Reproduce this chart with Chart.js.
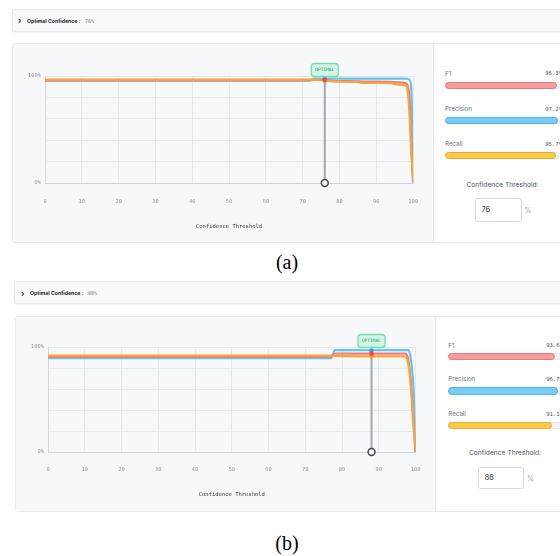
<!DOCTYPE html>
<html>
<head>
<meta charset="utf-8">
<script src="https://cdn.jsdelivr.net/npm/chart.js@4.4.1/dist/chart.umd.min.js"></script>
<style>
  html, body { margin: 0; padding: 0; background: #fff; }
  body { width: 560px; height: 556px; overflow: hidden; position: relative; font-family: Inter, "Noto Sans", sans-serif; }
  .abs { position: absolute; white-space: nowrap; }
  .hdr { position: absolute; width: 620px; height: 23px; box-sizing: border-box; background: #f8f9fb; border: 1px solid #e5e7eb; border-radius: 3px; box-shadow: 0 1px 1px rgba(0,0,0,0.03); }
  .chev { font-size: 8px; font-weight: 700; color: #222; transform: translateY(-50%); }
  .hdr-label { font-size: 5.2px; font-weight: 700; color: #1f2937; transform: translateY(-50%); }
  .hdr-val { font-family: "DejaVu Sans Mono", monospace; font-size: 5px; color: #6b7280; transform: translateY(-50%); }
  .card { position: absolute; width: 620px; box-sizing: border-box; border: 1px solid #e6e8ec; border-radius: 3px; background: #fff; overflow: hidden; }
  canvas { position: absolute; background: #f7f8fa; }
  .side-line { position: absolute; width: 1px; background: #e6e8ec; }
  .mlabel { font-size: 6.2px; color: #6b7280; transform: translateY(-50%); }
  .mval { font-family: "DejaVu Sans Mono", monospace; font-size: 5.6px; color: #4b5563; transform: translate(-100%, -50%); }
  .track { position: absolute; box-sizing: border-box; border: 1px solid #e3e5e9; background: #f3f4f6; border-radius: 4px; }
  .fill { position: absolute; box-sizing: border-box; border-radius: 4px; border: 1px solid; }
  .ct { font-size: 6.7px; color: #4b5563; transform: translate(-50%, -50%); }
  .inp { position: absolute; box-sizing: border-box; border: 1px solid #d6d9de; border-radius: 3px; background: #fff; font-size: 7.4px; color: #1f2937; padding-left: 6px; display: flex; align-items: center; }
  .pct { font-size: 7px; color: #9ca3af; transform: translateY(-50%); }
  .cap { font-family: "Liberation Serif", "Times New Roman", serif; font-size: 20px; color: #000; transform: translate(-50%, -50%); }
</style>
</head>
<body>

<div class="hdr" style="left:12px; top:9px;"></div>
<span class="abs chev" style="left:18px; top:20px;">›</span>
<span class="abs hdr-label" style="left:27px; top:20.5px;">Optimal Confidence :</span>
<span class="abs hdr-val" id="hdrValA" style="left:85px; top:20.5px;"></span>
<div class="card" style="left:12px; top:43px; height:200px;"></div>
<canvas id="chartA" width="420" height="198" style="left:13px; top:44px;"></canvas>
<div class="side-line" style="left:433px; top:44px; height:198px;"></div>
<div id="sideA"></div>
<span class="abs cap" style="left:287px; top:262px;">(a)</span>

<div class="hdr" style="left:14px; top:281px;"></div>
<span class="abs chev" style="left:21px; top:292.5px;">›</span>
<span class="abs hdr-label" style="left:30px; top:293px;">Optimal Confidence :</span>
<span class="abs hdr-val" id="hdrValB" style="left:88px; top:293px;"></span>
<div class="card" style="left:15px; top:316px; height:196px;"></div>
<canvas id="chartB" width="419" height="194" style="left:16px; top:317px;"></canvas>
<div class="side-line" style="left:435px; top:317px; height:194px;"></div>
<div id="sideB"></div>
<span class="abs cap" style="left:287px; top:543px;">(b)</span>

<script>
// ---- data ----
const metricNames = ['F1', 'Precision', 'Recall'];

// panel (a)
const optimalA = 76;
const metricsA = [96.3, 97.2, 95.7];          // F1, Precision, Recall at the optimal threshold
const thresholdsA = [0, 72, 73, 76, 78, 80, 85, 86, 94, 95, 97, 98, 98.5, 99, 99.5, 100];
const f1A =        [96.0, 96.0, 96.5, 96.3, 95.6, 95.3, 95.0, 94.8, 94.5, 94.2, 93.8, 93.2, 91.0, 80.0, 40.0, 0];
const precisionA = [95.6, 95.6, 97.6, 97.4, 97.6, 97.6, 97.6, 97.6, 97.6, 97.6, 97.6, 97.6, 97.4, 96.5, 88.0, 0];
const recallA =    [96.6, 96.6, 96.6, 95.7, 95.0, 94.7, 94.3, 93.6, 93.3, 92.4, 91.6, 91.2, 86.0, 65.0, 28.0, 0];

// panel (b)
const optimalB = 88;
const metricsB = [93.6, 96.7, 91.1];
const thresholdsB = [0, 77, 78, 88, 97, 97.5, 98, 98.5, 99, 99.5, 100];
const f1B =        [90.6, 90.6, 93.8, 93.6, 93.6, 93.0, 88.0, 75.0, 52.0, 25.0, 0];
const precisionB = [89.5, 89.5, 97.0, 96.9, 97.0, 97.0, 96.9, 93.0, 80.0, 55.0, 0];
const recallB =    [91.7, 91.7, 91.5, 91.1, 91.1, 90.0, 84.0, 70.0, 46.0, 20.0, 0];

const yTicks = { 0: '0%', 100: '100%' };

// ---- styles ----
const RED = '#f07c7c', BLUE = '#63c3ee', ORANGE = '#f5a53c';
const barStyles = [
  { fill: '#f59d9d', border: '#e57b7b' },
  { fill: '#79cdf5', border: '#4fb3e6' },
  { fill: '#fcc94a', border: '#e6ad2a' }
];

Chart.defaults.font.family = '"DejaVu Sans Mono", monospace';

const optimalTag = {
  id: 'optimalTag',
  afterDatasetsDraw(chart, args, opts) {
    const ctx = chart.ctx;
    const x = chart.scales.x.getPixelForValue(opts.value);
    const yTop = chart.scales.y.getPixelForValue(100);
    const w = 27, h = 13;
    ctx.save();
    ctx.beginPath();
    ctx.roundRect(x - w / 2, yTop - h + 0.5, w, h, 3);
    ctx.fillStyle = '#d4f5e5';
    ctx.fill();
    ctx.lineWidth = 1.3;
    ctx.strokeStyle = '#72dcae';
    ctx.stroke();
    ctx.fillStyle = '#23a06f';
    ctx.font = '4.5px "DejaVu Sans Mono", monospace';
    ctx.textAlign = 'center';
    ctx.textBaseline = 'middle';
    ctx.fillText('OPTIMAL', x, yTop - h / 2 + 0.7);
    ctx.restore();
  }
};

function makeChart(id, thresholds, f1, precision, recall, optimal, metrics, geo) {
  const pts = arr => thresholds.map((t, i) => ({ x: t, y: arr[i] }));
  const curve = (arr, color) => ({
    data: pts(arr), borderColor: color, borderWidth: 2.2, pointRadius: 0,
    cubicInterpolationMode: 'monotone'
  });
  new Chart(document.getElementById(id), {
    type: 'line',
    data: {
      datasets: [
        {
          data: [{ x: optimal, y: metrics[1] }, { x: optimal, y: metrics[2] }, { x: optimal, y: metrics[0] }],
          showLine: false, pointRadius: 2.2, pointBorderWidth: 0,
          pointBackgroundColor: ['#3b8fe8', '#f59e0b', '#ef4444'], clip: false
        },
        {
          data: [{ x: optimal, y: 0 }, { x: optimal, y: metrics[1] }],
          borderColor: '#a3a8b0', borderWidth: 2,
          pointRadius: [3.4, 0], pointBorderWidth: 1.5,
          pointBorderColor: '#40464f', pointBackgroundColor: '#f7f8fa', clip: false
        },
        curve(recall, ORANGE),
        curve(f1, RED),
        curve(precision, BLUE)
      ]
    },
    options: {
      responsive: false,
      animation: false,
      devicePixelRatio: 1,
      events: [],
      layout: { padding: { top: geo.padTop, right: geo.padRight, left: 0, bottom: 0 } },
      plugins: { legend: { display: false }, tooltip: { enabled: false }, optimalTag: { value: optimal } },
      scales: {
        x: {
          type: 'linear', min: 0, max: 100,
          afterFit: s => { s.height = geo.xHeight; },
          ticks: { stepSize: 10, padding: geo.tickPad, color: '#8f959e', font: { size: 5.4 } },
          grid: { color: '#e6e8ec', lineWidth: 1, drawTicks: false },
          border: { color: '#cfd3d9' },
          title: {
            display: true, text: 'Confidence Threshold', color: '#2f3640',
            font: { size: 5.5, weight: '500' }, padding: { top: 0, bottom: geo.titlePad }
          }
        },
        y: {
          min: 0, max: 100,
          afterFit: s => { s.width = geo.yWidth; },
          ticks: {
            stepSize: 20, padding: 4, color: '#8f959e', font: { size: 5.4 },
            callback: v => yTicks[v] || ''
          },
          grid: { color: '#e6e8ec', lineWidth: 1, drawTicks: false },
          border: { color: '#d6dae0' }
        }
      }
    },
    plugins: [optimalTag]
  });
}

function makeSide(containerId, metrics, threshold, g) {
  const root = document.getElementById(containerId);
  let html = '';
  metrics.forEach((m, i) => {
    const st = barStyles[i];
    html += `<span class="abs mlabel" style="left:${g.x}px; top:${g.labelY[i]}px;">${metricNames[i]}</span>`;
    html += `<span class="abs mval" style="left:${g.valRight}px; top:${g.labelY[i] + 0.5}px;">${m.toFixed(1)}%</span>`;
    html += `<div class="track" style="left:${g.x}px; top:${g.barY[i]}px; width:${g.trackW}px; height:${g.barH}px;"></div>`;
    html += `<div class="fill" style="left:${g.x}px; top:${g.barY[i]}px; width:${(g.trackW * m / 100).toFixed(1)}px; height:${g.barH}px; background:${st.fill}; border-color:${st.border};"></div>`;
  });
  html += `<span class="abs ct" style="left:${g.ctX}px; top:${g.ctY}px;">Confidence Threshold:</span>`;
  html += `<div class="inp" style="left:${g.inp[0]}px; top:${g.inp[1]}px; width:${g.inp[2]}px; height:${g.inp[3]}px;">${threshold}</div>`;
  html += `<span class="abs pct" style="left:${g.pctX}px; top:${g.inp[1] + g.inp[3] / 2}px;">%</span>`;
  root.innerHTML = html;
}

document.getElementById('hdrValA').textContent = optimalA + '%';
document.getElementById('hdrValB').textContent = optimalB + '%';

makeChart('chartA', thresholdsA, f1A, precisionA, recallA, optimalA, metricsA,
  { padTop: 32, padRight: 18, yWidth: 32, xHeight: 59, tickPad: 15, titlePad: 12.5 });
makeChart('chartB', thresholdsB, f1B, precisionB, recallB, optimalB, metricsB,
  { padTop: 30, padRight: 18, yWidth: 32, xHeight: 59, tickPad: 14.5, titlePad: 13.5 });

makeSide('sideA', metricsA, optimalA, {
  x: 445, valRight: 562, labelY: [72.5, 108.3, 143.3], barY: [81.5, 117, 152], barH: 7, trackW: 116,
  ctX: 502.5, ctY: 185, inp: [474.5, 197.5, 47, 24], pctX: 524.5
});
makeSide('sideB', metricsB, optimalB, {
  x: 448.3, valRight: 563, labelY: [344.5, 378.3, 413.3], barY: [352.5, 387, 421.5], barH: 7.5, trackW: 114,
  ctX: 505, ctY: 453.3, inp: [477.7, 466.7, 46.6, 22.6], pctX: 527
});
</script>
</body>
</html>
